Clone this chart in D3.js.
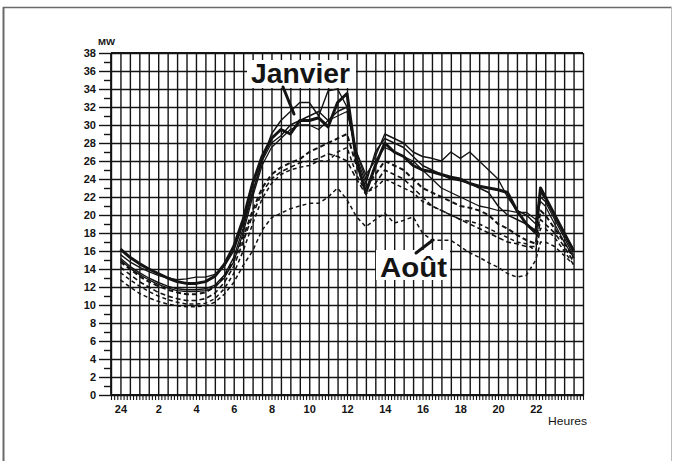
<!DOCTYPE html>
<html><head><meta charset="utf-8">
<script src="https://cdn.jsdelivr.net/npm/d3@7"></script>
<style>body{margin:0;background:#fff}svg{display:block}</style>
</head><body>
<svg id="c" width="675" height="461"></svg>
<script>
// ---- data ----
const hours = [0,0.5,1,1.5,2,2.5,3,3.5,4,4.5,5,5.5,6,6.5,7,7.5,8,8.5,9,9.5,10,10.5,11,11.5,12,12.5,13,13.5,14,14.5,15,15.5,16,16.5,17,17.5,18,18.5,19,19.5,20,20.5,21,21.5,22,22.25,22.5,23,23.5,24];
const janvierA = [16.2,15.3,14.6,14.0,13.5,13.0,12.6,12.4,12.4,12.6,13.2,14.5,16.5,19.5,23.5,26.5,28.5,29.5,29.0,30.5,30.5,30.8,29.8,32.5,33.5,26.0,22.5,25.5,28.0,27.0,26.5,25.5,25.0,24.8,24.5,24.2,24.0,23.5,23.2,23.0,22.8,22.5,20.5,19.0,18.0,23.0,22.0,20.0,18.0,16.0];
const janvierB = [15.6,14.8,14.2,13.7,13.3,13.0,12.8,12.9,13.1,13.1,13.4,14.3,16.0,19.0,22.5,26.0,29.0,30.5,31.5,32.5,32.5,31.0,33.8,34.0,32.0,27.0,24.0,26.5,29.0,28.5,28.0,27.0,26.5,26.3,26.0,27.0,26.3,27.0,26.0,25.0,24.0,22.0,20.5,20.0,19.0,22.5,21.8,20.0,18.0,16.2];
const janvierC = [15.2,14.3,13.6,13.0,12.5,12.1,11.8,11.7,11.7,11.8,12.2,13.3,15.3,18.5,22.5,26.0,28.0,28.8,30.0,30.5,31.0,31.5,30.5,31.5,32.0,26.5,23.5,27.0,28.5,28.0,27.5,26.5,25.5,25.0,24.5,24.0,23.8,23.5,23.0,22.5,21.0,20.0,19.5,19.0,18.3,22.0,21.5,19.5,17.5,15.5];
const janvierD = [15.0,14.1,13.4,12.8,12.3,11.9,11.6,11.5,11.5,11.6,12.0,13.0,14.8,18.0,22.0,25.5,27.5,28.5,29.5,30.0,30.0,29.5,30.5,31.0,31.5,27.0,24.5,26.0,27.5,27.0,26.5,26.0,25.0,24.0,23.0,22.5,22.0,21.5,21.0,20.8,20.5,20.5,20.3,20.3,19.5,21.5,21.0,19.0,17.0,15.3];
const aoutA = [14.8,14.0,13.2,12.6,12.1,11.7,11.4,11.2,11.2,11.4,12.0,13.2,15.0,17.5,20.5,23.0,24.5,25.3,25.8,26.2,27.0,27.5,28.0,28.5,29.0,25.5,23.0,24.5,26.0,25.5,25.0,24.0,23.0,22.5,22.0,21.5,21.0,20.8,20.5,20.0,19.0,18.5,17.8,17.2,16.8,20.5,20.0,18.5,17.0,15.2];
const aoutB = [14.2,13.4,12.6,12.0,11.4,11.0,10.7,10.5,10.5,10.7,11.3,12.5,14.3,17.0,20.0,22.5,24.0,24.8,25.3,25.8,26.0,26.3,26.8,26.5,26.0,24.0,22.3,23.5,25.0,24.5,24.0,23.0,22.0,21.0,20.5,20.0,19.5,19.0,18.5,18.0,17.5,17.0,16.8,16.5,16.5,19.5,19.0,18.0,16.5,14.8];
const aoutC = [13.6,12.8,12.1,11.5,11.0,10.6,10.3,10.1,10.1,10.2,10.7,11.8,13.5,16.0,19.0,21.8,23.5,24.5,25.0,25.3,25.5,26.0,26.0,27.0,27.5,24.5,22.5,23.0,24.0,23.5,23.0,22.5,21.5,21.0,20.5,20.0,19.5,19.3,19.0,18.5,18.0,17.5,17.0,16.8,16.0,18.5,18.5,17.5,16.0,14.5];
const aoutD = [12.8,12.0,11.3,10.8,10.4,10.1,9.9,9.8,9.8,9.9,10.3,11.2,12.5,14.4,16.0,18.3,19.7,20.2,20.7,21.0,21.3,21.3,22.0,23.0,21.7,19.8,18.7,19.5,20.2,19.1,19.4,19.8,18.0,17.2,17.2,17.2,16.5,15.8,15.3,14.7,14.2,13.5,13.1,13.3,15.0,17.0,17.0,16.5,15.5,14.5];
const xTickHours = [0,2,4,6,8,10,12,14,16,18,20,22];
const xTickLabels = ["24","2","4","6","8","10","12","14","16","18","20","22"];
const yTickValues = [0,2,4,6,8,10,12,14,16,18,20,22,24,26,28,30,32,34,36,38];
const yUnit = "MW";
const xUnit = "Heures";
const labelJanvier = "Janvier";
const labelAout = "Août";

// ---- drawing ----
const svg = d3.select("#c");
const W = 675, H = 461;
const L = 111, R = 583, T = 53, B = 395;
const x = d3.scaleLinear().domain([-0.5, 24.5]).range([L, R]);
const y = d3.scaleLinear().domain([0, 38]).range([B, T]);
const ink = "#141414";
const font = "'Liberation Sans', Arial, Helvetica, sans-serif";

// frame
const frame = svg.append("g").attr("stroke", "#6a6a6a").attr("fill", "none");
frame.append("line").attr("x1", 3).attr("x2", 672).attr("y1", 7.5).attr("y2", 7.5).attr("stroke-width", 1.6);
frame.append("line").attr("x1", 3.5).attr("x2", 3.5).attr("y1", 7).attr("y2", H).attr("stroke-width", 2);
frame.append("line").attr("x1", 671.5).attr("x2", 671.5).attr("y1", 7).attr("y2", H).attr("stroke-width", 1).attr("stroke", "#bbb");

function styleAxis(g) {
  g.select(".domain").remove();
  g.selectAll("line").attr("stroke", ink).attr("stroke-width", 1.4);
  g.selectAll("text").attr("fill", ink).attr("font-family", font).attr("font-weight", "bold").attr("font-size", 11);
}

// vertical grid (every half hour)
svg.append("g").attr("transform", `translate(0,${B})`)
  .call(d3.axisBottom(x).tickValues(d3.range(-0.5, 24.51, 0.5)).tickSize(-(B - T)).tickFormat(""))
  .call(styleAxis);
// minor ticks below axis (every 10 min)
svg.append("g").attr("transform", `translate(0,${B})`)
  .call(d3.axisBottom(x).tickValues(d3.range(-0.5, 24.5001, 1 / 6)).tickSize(5).tickFormat(""))
  .call(styleAxis)
  .call(g => g.selectAll("line").attr("stroke-width", 1.1));
// x labels
svg.append("g").attr("transform", `translate(0,${B})`)
  .call(d3.axisBottom(x).tickValues(xTickHours).tickSize(0).tickPadding(10)
    .tickFormat((d, i) => xTickLabels[i]))
  .call(styleAxis);

// horizontal grid + major left ticks
svg.append("g").attr("transform", `translate(${L},0)`)
  .call(d3.axisLeft(y).tickValues(yTickValues).tickSize(-(R - L)).tickFormat(""))
  .call(styleAxis);
svg.append("g").attr("transform", `translate(${L},0)`)
  .call(d3.axisLeft(y).tickValues(yTickValues).tickSize(12).tickPadding(3))
  .call(styleAxis);
// minor left ticks (odd values)
svg.append("g").attr("transform", `translate(${L},0)`)
  .call(d3.axisLeft(y).tickValues(d3.range(1, 38, 2)).tickSize(7).tickFormat(""))
  .call(styleAxis);
// axes lines
svg.append("line").attr("x1", L).attr("x2", L).attr("y1", T).attr("y2", B).attr("stroke", ink).attr("stroke-width", 1.8);
svg.append("line").attr("x1", L).attr("x2", R).attr("y1", B).attr("y2", B).attr("stroke", ink).attr("stroke-width", 1.8);
svg.append("line").attr("x1", L).attr("x2", R).attr("y1", T).attr("y2", T).attr("stroke", ink).attr("stroke-width", 1.8);

// units
svg.append("text").attr("x", 98).attr("y", 45).text(yUnit)
  .attr("font-family", font).attr("font-weight", "bold").attr("font-size", 9).attr("fill", ink)
  .attr("textLength", 17).attr("lengthAdjust", "spacingAndGlyphs");
svg.append("text").attr("x", 548).attr("y", 425).text(xUnit)
  .attr("font-family", font).attr("font-size", 10.5).attr("fill", ink)
  .attr("textLength", 39).attr("lengthAdjust", "spacingAndGlyphs");

// series
const line = d3.line().x((d, i) => x(hours[i])).y(d => y(d));
const series = [
  { v: aoutD, w: 1.5, dash: "4,3" },
  { v: aoutC, w: 1.5, dash: "4,3" },
  { v: aoutB, w: 1.6, dash: "5,3" },
  { v: aoutA, w: 2.0, dash: "5,3" },
  { v: janvierD, w: 1.3, dash: null },
  { v: janvierC, w: 1.4, dash: null },
  { v: janvierB, w: 1.4, dash: null },
  { v: janvierA, w: 3.0, dash: null }
];
svg.append("g").selectAll("path").data(series).join("path")
  .attr("d", s => line(s.v))
  .attr("fill", "none").attr("stroke", ink)
  .attr("stroke-width", s => s.w)
  .attr("stroke-dasharray", s => s.dash)
  .attr("stroke-linejoin", "round");

// annotations
function label(txt, tx, ty, len, box) {
  svg.append("rect").attr("x", box[0]).attr("y", box[1]).attr("width", box[2]).attr("height", box[3]).attr("fill", "#fff");
  svg.append("text").attr("x", tx).attr("y", ty).text(txt)
    .attr("font-family", font).attr("font-weight", "bold").attr("font-size", 27).attr("fill", ink)
    .attr("textLength", len).attr("lengthAdjust", "spacingAndGlyphs");
}
label(labelJanvier, 251, 83, 99, [247, 60, 109, 28]);
label(labelAout, 380, 277, 67, [376, 250, 74, 30]);
svg.append("line").attr("x1", 283).attr("y1", 87).attr("x2", 294).attr("y2", 114)
  .attr("stroke", ink).attr("stroke-width", 3).attr("stroke-linecap", "round");
svg.append("line").attr("x1", 416).attr("y1", 253).attr("x2", 433).attr("y2", 240)
  .attr("stroke", ink).attr("stroke-width", 3).attr("stroke-linecap", "round");
</script>
</body></html>
